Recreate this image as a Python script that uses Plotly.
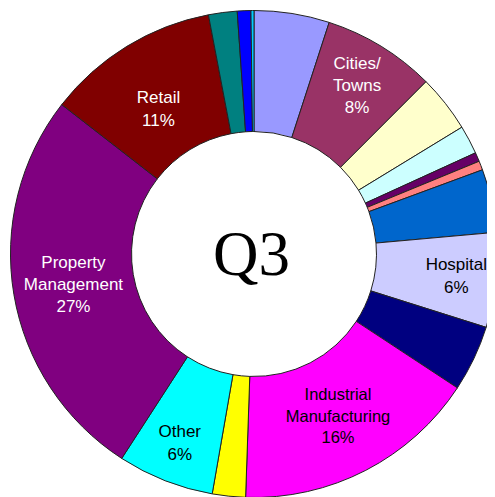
import plotly.graph_objects as go

# Sectors in clockwise order starting at 12 o'clock
sectors = [
    "Sector A", "Cities/Towns", "Sector B", "Sector C", "Sector D", "Sector E",
    "Sector F", "Hospital", "Sector G", "Industrial Manufacturing", "Sector H",
    "Other", "Property Management", "Retail", "Sector I", "Sector J", "Sector K",
]
values = [5.0, 7.5, 3.8, 1.9, 0.6, 0.6, 4.2, 6.3, 4.4, 16.3, 2.2, 6.4, 26.4, 11.5, 1.9, 0.9, 0.2]
slice_text = [
    "", "Cities/<br>Towns<br>8%", "", "", "", "",
    "", "Hospital<br>6%", "", "Industrial<br>Manufacturing<br>16%", "",
    "Other<br>6%", "Property<br>Management<br>27%", "&nbsp;<br>Retail<br>11%", "", "", "",
]
colors = [
    "#9999FF", "#993366", "#FFFFCC", "#CCFFFF", "#660066", "#FF8080",
    "#0066CC", "#CCCCFF", "#000080", "#FF00FF", "#FFFF00",
    "#00FFFF", "#800080", "#800000", "#008080", "#0000FF", "#00CCFF",
]
text_colors = [
    "black", "white", "black", "black", "white", "black",
    "white", "black", "white", "black", "black",
    "black", "white", "white", "white", "white", "black",
]
center_title = "Q3"

W, H = 495, 497
dom_x = [2.5 / W, 489.5 / W]
dom_y = [(H - 489.5) / H, (H - 2.5) / H]

fig = go.Figure(
    go.Pie(
        labels=sectors,
        values=values,
        text=slice_text,
        texttemplate="%{text}",
        textposition="inside",
        insidetextorientation="horizontal",
        textfont=dict(family="Liberation Sans, Arial, sans-serif", size=17, color=text_colors),
        marker=dict(colors=colors, line=dict(color="#222222", width=1)),
        hole=0.503,
        sort=False,
        direction="clockwise",
        rotation=0,
        hoverinfo="label+percent",
        domain=dict(x=dom_x, y=dom_y),
        showlegend=False,
    )
)

fig.update_layout(
    width=W,
    height=H,
    margin=dict(l=0, r=0, t=0, b=0),
    paper_bgcolor="white",
    plot_bgcolor="white",
    annotations=[
        dict(
            text=center_title,
            x=sum(dom_x) / 2, y=sum(dom_y) / 2,
            xref="paper", yref="paper",
            xanchor="center", yanchor="middle",
            xshift=-3,
            showarrow=False,
            font=dict(family="Liberation Serif, Times New Roman, serif", size=63, color="black"),
        )
    ],
)

fig.write_html("out.html")
